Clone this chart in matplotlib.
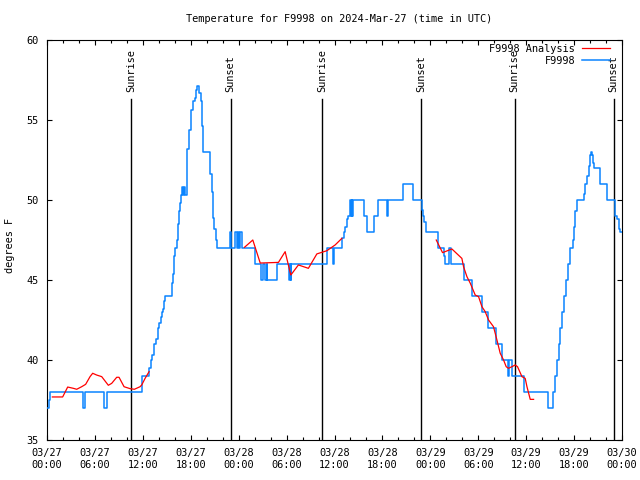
import matplotlib
matplotlib.use("Agg")
from matplotlib import pyplot as plt
import matplotlib.transforms as mtransforms

plt.rcParams['font.family'] = ['DejaVu Sans Mono']
plt.rcParams['font.size'] = 7.4

# hours since 2024-03-27 00:00 UTC
obs_hours = [0.0, 0.25, 0.4, 4.5, 4.8, 7.1, 7.55, 11.94, 12.82, 13.03, 13.2, 13.45,
             13.66, 13.86, 14.07, 14.24, 14.36, 14.57, 14.7, 14.82, 15.7, 15.83, 15.95,
             16.08, 16.25, 16.45, 16.58, 16.7, 16.83, 16.95, 17.08, 17.2, 17.33, 17.5,
             17.75, 18.0, 18.25, 18.5, 18.67, 18.83, 19.0, 19.25, 19.38, 19.5, 20.42,
             20.63, 20.84, 20.96, 21.13, 21.26, 22.95, 23.1, 23.6, 23.75, 23.9, 24.05,
             24.2, 24.4, 26.0, 26.8, 27.1, 27.35, 27.5, 27.6, 28.77, 30.36, 30.45, 30.5,
             30.6, 35.04, 35.8, 35.95, 36.92, 37.13, 37.33, 37.55, 37.67, 37.96, 38.05,
             38.15, 38.25, 38.37, 39.75, 40.05, 40.89, 41.43, 42.55, 42.65, 44.56, 45.82,
             46.94, 47.1, 47.25, 47.4, 48.9, 49.7, 49.78, 50.4, 50.6, 52.16, 53.2, 54.46,
             55.2, 56.25, 56.96, 57.72, 57.85, 58.26, 59.67, 62.68, 63.35, 63.64, 63.85,
             64.06, 64.27, 64.48, 64.69, 64.98, 65.23, 65.52, 65.81, 65.94, 66.15, 66.36,
             67.19, 67.4, 67.61, 67.81, 68.03, 68.15, 68.28, 68.36, 68.53, 69.28, 70.12,
             71.07, 71.37, 71.57, 71.78, 72.0]
obs_temps = [37.0, 37.5, 38.0, 37.0, 38.0, 37.0, 38.0, 39.0, 39.5, 40.0, 40.3, 41.0,
             41.3, 42.0, 42.3, 42.7, 43.0, 43.2, 43.7, 44.0, 44.8, 45.4, 46.5,
             47.0, 47.5, 48.5, 49.3, 49.8, 50.3, 50.8, 50.3, 50.8, 50.3, 53.2,
             54.4, 55.6, 56.2, 56.4, 56.9, 57.1, 56.7, 56.2, 54.6, 53.0, 51.6,
             50.5, 48.9, 48.2, 47.5, 47.0, 48.0, 47.0, 48.0, 47.0, 48.0, 47.0,
             48.0, 47.0, 46.0, 45.0, 46.0, 45.0, 46.0, 45.0, 46.0, 45.0, 46.0, 45.0,
             46.0, 47.0, 46.0, 47.0, 47.6, 48.0, 48.3, 48.8, 49.0, 50.0, 49.0,
             50.0, 49.0, 50.0, 49.0, 48.0, 49.0, 50.0, 49.0, 50.0, 51.0, 50.0,
             49.4, 49.0, 48.6, 48.0, 47.0, 46.5, 46.0, 47.0, 46.0, 45.0, 44.0, 43.0,
             42.0, 41.0, 40.0, 39.0, 40.0, 39.0, 38.0, 37.0, 38.0, 39.0, 40.0,
             41.0, 42.0, 43.0, 44.0, 45.0, 46.0, 47.0, 47.5, 48.3, 49.3, 50.0,
             50.4, 51.0, 51.5, 52.1, 52.8, 53.0, 52.8, 52.3, 52.0, 51.0, 50.0,
             49.0, 48.8, 48.2, 48.0, 48.0]

# analysis comes in three separate pieces
ana1_hours = [0.67, 1.96, 2.59, 3.3, 3.72, 4.34, 4.84, 5.39, 5.72, 6.22, 6.85, 7.68,
              8.1, 8.73, 9.02, 9.65, 10.4, 10.94, 11.65, 11.86, 12.28, 12.78]
ana1_temps = [37.69, 37.69, 38.31, 38.23, 38.17, 38.33, 38.48, 38.96, 39.17, 39.06,
              38.96, 38.42, 38.54, 38.92, 38.92, 38.33, 38.21, 38.17, 38.33, 38.44,
              38.85, 39.27]
ana2_hours = [24.72, 25.77, 26.7, 28.98, 29.82, 30.53, 31.48, 32.73, 33.79, 35.04,
              36.08, 36.92]
ana2_temps = [47.04, 47.5, 46.06, 46.1, 46.77, 45.31, 45.94, 45.73, 46.63, 46.83,
              47.19, 47.6]
ana3_hours = [48.74, 49.53, 50.7, 51.95, 52.16, 52.58, 53.0, 53.62, 54.04, 54.46,
              54.87, 55.29, 55.91, 56.34, 56.75, 57.17, 57.5, 57.79, 58.21, 58.63,
              58.92, 59.47, 59.88, 60.1, 60.51, 60.93]
ana3_temps = [47.5, 46.71, 46.94, 46.35, 45.83, 45.21, 44.8, 44.06, 43.96, 43.33,
              43.02, 42.5, 42.08, 41.25, 40.42, 40.0, 39.58, 39.48, 39.58, 39.69,
              39.58, 38.96, 38.85, 38.33, 37.54, 37.54]

sun_hours = [10.52, 22.99, 34.49, 46.89, 58.54, 70.95]
sun_labels = ['Sunrise', 'Sunset', 'Sunrise', 'Sunset', 'Sunrise', 'Sunset']

tick_hours = [0, 6, 12, 18, 24, 30, 36, 42, 48, 54, 60, 66, 72]
tick_labels = ['03/27\n00:00', '03/27\n06:00', '03/27\n12:00', '03/27\n18:00',
               '03/28\n00:00', '03/28\n06:00', '03/28\n12:00', '03/28\n18:00',
               '03/29\n00:00', '03/29\n06:00', '03/29\n12:00', '03/29\n18:00',
               '03/30\n00:00']

fig = plt.figure(figsize=(6.4, 4.8), dpi=100)
ax = fig.add_axes([47/640, 40/480, 575/640, 400/480])

red = '#ff0000'
blue = '#0a84ff'

ax.plot(ana1_hours, ana1_temps, color=red, lw=0.9, label='F9998 Analysis', zorder=4)
ax.plot(ana2_hours, ana2_temps, color=red, lw=0.9, zorder=4)
ax.plot(ana3_hours, ana3_temps, color=red, lw=0.9, zorder=4)
ax.plot(obs_hours, obs_temps, color=blue, lw=1.1, drawstyle='steps-post',
        label='F9998', zorder=3)

trans = mtransforms.blended_transform_factory(ax.transData, ax.transAxes)
for h, lab in zip(sun_hours, sun_labels):
    ax.axvline(h, ymin=0, ymax=0.852, color='black', lw=1.0, zorder=2)
    ax.text(h, 0.87, lab, rotation=90, ha='center', va='bottom', transform=trans)

ax.set_xlim(0, 72)
ax.set_ylim(35, 60)
ax.set_xticks(tick_hours)
ax.set_xticklabels(tick_labels)
ax.set_xticks(range(0, 73, 2), minor=True)
ax.set_yticks([35, 40, 45, 50, 55, 60])
ax.tick_params(which='both', direction='in', top=True, right=True, width=0.8)
ax.tick_params(which='major', length=3.5, pad=6)
ax.tick_params(which='minor', length=2.5)
for s in ax.spines.values():
    s.set_linewidth(0.8)

fig.text(339.5/640, 1 - 19/480, 'Temperature for F9998 on 2024-Mar-27 (time in UTC)',
         ha='center', va='center')
fig.text(10.5/640, 1 - 245/480, 'degrees F', rotation=90, ha='center', va='center')

leg = ax.legend(loc='upper right', bbox_to_anchor=(1 - 12.4/575, 1 - 4/400),
                frameon=False, markerfirst=False, borderaxespad=0, borderpad=0,
                handlelength=2.7, handletextpad=0.65, labelspacing=0.2)

fig.savefig('out.png', dpi=100)
